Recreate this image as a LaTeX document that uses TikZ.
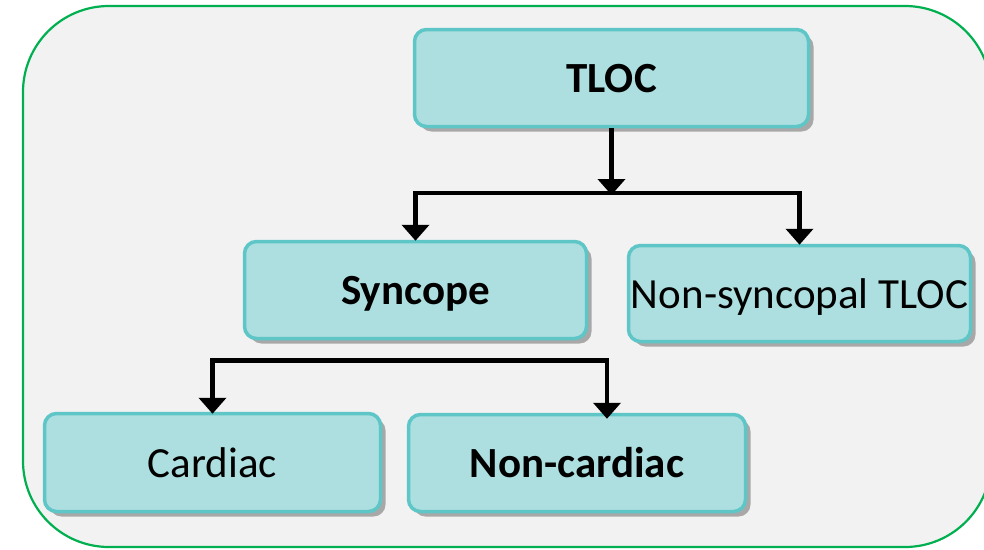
\documentclass[tikz,border=0pt]{standalone}
\usepackage{fontspec}
\setmainfont{Carlito}
\usetikzlibrary{arrows.meta,shadows}
\definecolor{boxfill}{HTML}{ADDFE0}
\definecolor{boxline}{HTML}{5FC6C7}
\definecolor{bg}{HTML}{F2F2F2}
\definecolor{framegreen}{HTML}{00B050}
\tikzset{
  box/.style={draw=boxline, fill=boxfill, line width=3.5pt, rounded corners=12pt,
    inner sep=0pt, font=\fontsize{43}{43}\selectfont, text height=30pt, text depth=1pt,
    drop shadow={shadow xshift=5pt, shadow yshift=-5pt, fill=black, opacity=0.3}},
  tip/.style={-{Triangle[width=27pt,length=16pt]}},
  conn/.style={line width=4.5pt, black},
}
\begin{document}
\begin{tikzpicture}[x=1pt,y=-1pt]
\useasboundingbox (0,0) rectangle (984,549);
\clip (0,0) rectangle (984,549);
\fill[white] (0,0) rectangle (984,549);
\draw[framegreen, fill=bg, line width=2.2pt, rounded corners=86pt] (23,6) rectangle (991,547);

\node[box, minimum width=394pt, minimum height=97pt] (tloc) at (611.5,78) {\textbf{TLOC}};
\node[box, minimum width=342pt, minimum height=97pt] (sync) at (415.5,290) {\textbf{Syncope}};
\node[box, minimum width=342pt, minimum height=96pt] (nons) at (799.5,293.5) {Non-syncopal TLOC};
\node[box, minimum width=336pt, minimum height=98pt] (card) at (212.5,462.5) {Cardiac};
\node[box, minimum width=337pt, minimum height=97pt] (noncard) at (577,463) {\textbf{Non-cardiac}};

\coordinate (b1) at (612,193);
\coordinate (b2) at (607,360.5);

\draw[conn, tip] (tloc.south) -- ([yshift=-2pt]tloc.south |- b1);
\draw[conn, {Triangle[width=27pt,length=16pt]}-{Triangle[width=27pt,length=16pt]}]
  ([yshift=-1pt]sync.north) |- (nons.north |- b1) -- ([yshift=-1pt]nons.north);
\draw[conn, {Triangle[width=27pt,length=16pt]}-{Triangle[width=27pt,length=16pt]}]
  ([yshift=-2pt]card.north) |- (b2) -- ([yshift=-6pt]b2 |- noncard.north);
\end{tikzpicture}
\end{document}
